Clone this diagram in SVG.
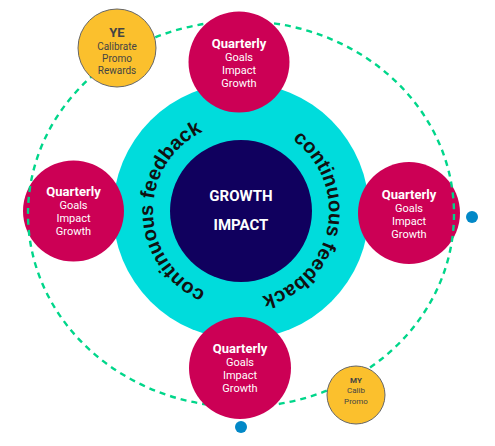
<svg xmlns="http://www.w3.org/2000/svg" width="495" height="446" viewBox="0 0 495 446">
<style>
.q{fill:#cc0055}
.qt{font-family:Roboto,"Liberation Sans",sans-serif;fill:#fff;text-anchor:middle}
.b{font-weight:bold;font-size:13px}
.r{font-size:11px}
.y{fill:#fbc02d;stroke:#666;stroke-width:1}
.yt{font-family:Roboto,"Liberation Sans",sans-serif;fill:#444;text-anchor:middle}
.cf{font-family:"Liberation Sans",Arial,sans-serif;font-weight:bold;font-size:20px;fill:#111}
.dot{fill:#0288c7}
</style>
<defs>
<path id="pr" d="M 257.8 124.6 A 88 88 0 0 1 224.2 297.4"/>
<path id="pl" d="M 242.5 299 A 88 88 0 0 1 239.5 123"/>
</defs>
<g id="feedback-ring">
<circle cx="241" cy="211" r="128" fill="#00dcdc"/>
<text class="cf"><textPath href="#pr" startOffset="50%" text-anchor="middle">continuous feedback</textPath></text>
<text class="cf"><textPath href="#pl" startOffset="50%" text-anchor="middle">continuous feedback</textPath></text>
</g>
<g id="core">
<circle cx="241" cy="211" r="71" fill="#10005e"/>
<text x="241" y="201" font-family="Roboto,'Liberation Sans',sans-serif" font-weight="bold" font-size="15" fill="#fff" text-anchor="middle">GROWTH</text>
<text x="241" y="230" font-family="Roboto,'Liberation Sans',sans-serif" font-weight="bold" font-size="15" fill="#fff" text-anchor="middle">IMPACT</text>
</g>
<g id="q-left">
<circle class="q" cx="73.5" cy="211" r="50.5"/>
<text class="qt b" x="73.5" y="196">Quarterly</text>
<text class="qt r" x="73.5" y="209">Goals</text>
<text class="qt r" x="73.5" y="222">Impact</text>
<text class="qt r" x="73.5" y="235">Growth</text>
</g>
<g id="q-right">
<circle class="q" cx="409" cy="213" r="51"/>
<text class="qt b" x="409" y="199">Quarterly</text>
<text class="qt r" x="409" y="212">Goals</text>
<text class="qt r" x="409" y="225">Impact</text>
<text class="qt r" x="409" y="238">Growth</text>
</g>
<g id="connectors">
<ellipse cx="241" cy="214" rx="213" ry="193" fill="none" stroke="#00d68a" stroke-width="2.4" stroke-dasharray="6 5"/>
</g>
<g id="q-top">
<circle class="q" cx="239" cy="62" r="50.5"/>
<text class="qt b" x="239" y="48">Quarterly</text>
<text class="qt r" x="239" y="61">Goals</text>
<text class="qt r" x="239" y="74">Impact</text>
<text class="qt r" x="239" y="87">Growth</text>
</g>
<g id="q-bottom">
<circle class="q" cx="240" cy="368" r="51"/>
<text class="qt b" x="240" y="353">Quarterly</text>
<text class="qt r" x="240" y="366">Goals</text>
<text class="qt r" x="240" y="379">Impact</text>
<text class="qt r" x="240" y="392">Growth</text>
</g>
<g id="ye">
<circle class="y" cx="117" cy="48" r="39"/>
<text class="yt" x="117" y="37" font-weight="bold" font-size="13" fill="#333">YE</text>
<text class="yt" x="117" y="50" font-size="10">Calibrate</text>
<text class="yt" x="117" y="62" font-size="10">Promo</text>
<text class="yt" x="117" y="74" font-size="10">Rewards</text>
</g>
<g id="my">
<circle class="y" cx="356" cy="395" r="29"/>
<text class="yt" x="356" y="383" font-weight="bold" font-size="8" fill="#333">MY</text>
<text class="yt" x="356" y="393" font-size="8">Calib</text>
<text class="yt" x="356" y="404" font-size="8">Promo</text>
</g>
<g id="dot-right"><circle class="dot" cx="472" cy="217" r="6"/></g>
<g id="dot-bottom"><circle class="dot" cx="241" cy="427" r="6"/></g>
</svg>
